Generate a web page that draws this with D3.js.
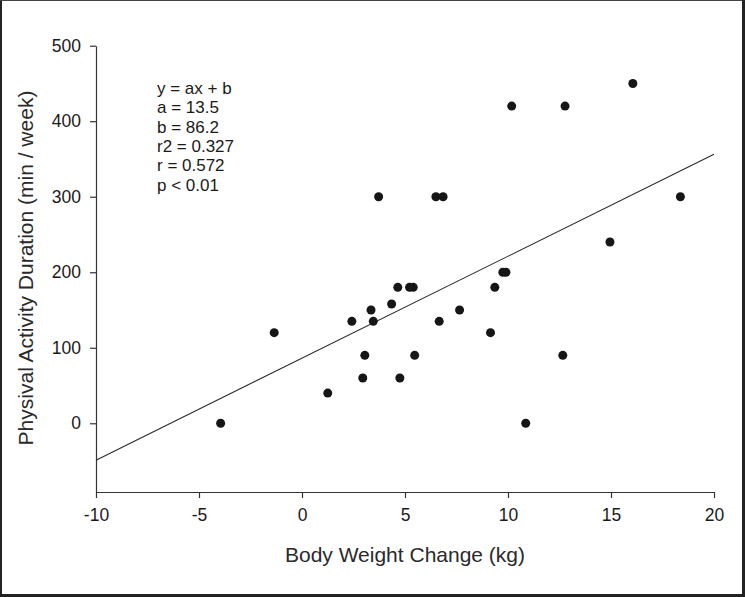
<!DOCTYPE html>
<html>
<head>
<meta charset="utf-8">
<script src="https://cdn.jsdelivr.net/npm/d3@7"></script>
<style>
  html, body { margin: 0; padding: 0; background: #fff; }
  svg { display: block; }
  text { font-family: "Liberation Sans", Arial, sans-serif; }
</style>
</head>
<body>
<svg id="chart" width="745" height="597"></svg>
<script>
// Data
const weightChange = [-3.95, -1.35, 1.25, 2.42, 2.95, 3.05, 3.35, 3.46, 3.72, 4.35, 4.65, 4.75,
                      5.22, 5.40, 5.47, 6.50, 6.85, 6.66, 7.65, 9.15, 9.36, 9.75, 9.90,
                      10.18, 10.86, 12.66, 12.77, 14.95, 16.06, 18.37];
const activity     = [0, 120, 40, 135, 60, 90, 150, 135, 300, 158, 180, 60,
                      180, 180, 90, 300, 300, 135, 150, 120, 180, 200, 200,
                      420, 0, 90, 420, 240, 450, 300];
const xTicks = [-10, -5, 0, 5, 10, 15, 20];
const yTicks = [0, 100, 200, 300, 400, 500];
const fitSlope = 13.5, fitIntercept = 86.2;
const statsLines = ["y = ax + b", "a = 13.5", "b = 86.2", "r2 = 0.327", "r = 0.572", "p < 0.01"];
const xTitle = "Body Weight Change (kg)";
const yTitle = "Physival Activity Duration (min / week)";

const svg = d3.select("#chart");
const W = 745, H = 597;
const ink = "#1a1a1a";

// frame
svg.append("rect").attr("x", 0).attr("y", 0).attr("width", W).attr("height", H).attr("fill", "#fff");
svg.append("rect").attr("x", 0).attr("y", 0).attr("width", 2).attr("height", H).attr("fill", "#222");
svg.append("rect").attr("x", 0).attr("y", 0).attr("width", W).attr("height", 1).attr("fill", "#444");
svg.append("rect").attr("x", W - 3).attr("y", 0).attr("width", 3).attr("height", H).attr("fill", "#222");
svg.append("rect").attr("x", 0).attr("y", H - 3).attr("width", W).attr("height", 3).attr("fill", "#222");

const x = d3.scaleLinear().domain([-10, 20]).range([96, 714]);
const y = d3.scaleLinear().domain([-91, 500]).range([492, 45.7]);

// axes
const xAxis = d3.axisBottom(x).tickValues(xTicks).tickSize(6).tickSizeOuter(0).tickPadding(11)
  .tickFormat(d => String(d));
const yAxis = d3.axisLeft(y).tickValues(yTicks).tickSize(6).tickSizeOuter(0).tickPadding(9)
  .tickFormat(d => String(d));

const gx = svg.append("g").attr("transform", `translate(0,${y(-91)})`).call(xAxis);
const gy = svg.append("g").attr("transform", `translate(${x(-10)},0)`).call(yAxis);
[gx, gy].forEach(g => {
  g.select(".domain").attr("stroke", "#333").attr("stroke-width", 1.2);
  g.selectAll(".tick line").attr("stroke", "#333").attr("stroke-width", 1.2);
  g.selectAll(".tick text").attr("fill", ink).attr("font-size", 17.5)
    .attr("font-family", "'Liberation Sans', Arial, sans-serif");
});

// regression line
svg.append("line")
  .attr("x1", x(-10)).attr("y1", y(fitSlope * -10 + fitIntercept))
  .attr("x2", x(20)).attr("y2", y(fitSlope * 20 + fitIntercept))
  .attr("stroke", "#2a2a2a").attr("stroke-width", 1.1);

// points
const pts = weightChange.map((d, i) => ({ x: d, y: activity[i] }));
svg.append("g").selectAll("circle").data(pts).join("circle")
  .attr("cx", d => x(d.x)).attr("cy", d => y(d.y)).attr("r", 4.5)
  .attr("fill", "#161616");

// stats text
svg.append("g").selectAll("text").data(statsLines).join("text")
  .attr("x", 157).attr("y", (d, i) => 94 + i * 19.3)
  .attr("font-size", 17).attr("fill", ink).text(d => d);

// axis titles
svg.append("text").attr("x", 405).attr("y", 562).attr("text-anchor", "middle")
  .attr("font-size", 21).attr("fill", "#2a2a2a").text(xTitle);
svg.append("text").attr("transform", "translate(33,268) rotate(-90)").attr("text-anchor", "middle")
  .attr("font-size", 21).attr("fill", "#2a2a2a").text(yTitle);
</script>
</body>
</html>
